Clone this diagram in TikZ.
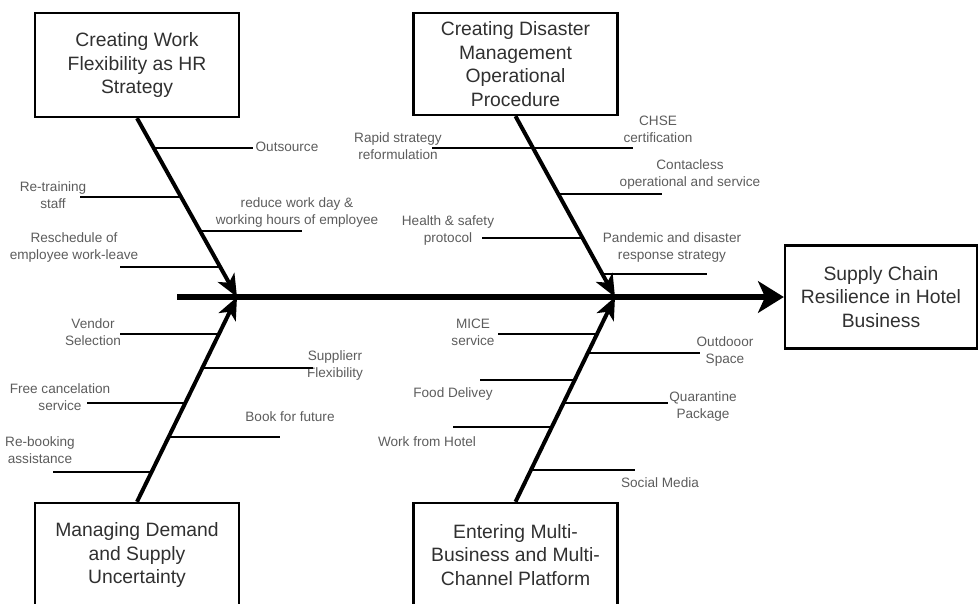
\documentclass[tikz,border=0pt]{standalone}
\usepackage{fontspec}
\setmainfont{Liberation Sans}
\usetikzlibrary{arrows.meta,positioning}
\definecolor{boxtext}{HTML}{303030}
\definecolor{labeltext}{HTML}{5C5C5C}

\begin{document}
\begin{tikzpicture}[x=0.03cm,y=-0.03cm]
\tikzstyle{cause}=[rectangle,draw=black,line width=2pt,minimum width=6.12cm,minimum height=3.12cm,align=center,text=boxtext,font={\fontsize{16.5}{20}\selectfont},inner sep=2pt]
\tikzstyle{effect}=[cause,minimum width=5.76cm,minimum height=3.09cm]
\tikzstyle{sublabel}=[align=center,text=labeltext,font={\fontsize{11.6}{14.5}\selectfont},inner sep=0pt]
\tikzstyle{spine}=[line width=3.4pt,-{Stealth[length=19pt,width=16pt,inset=5pt]}]
\tikzstyle{backbone}=[line width=4.3pt,-{Stealth[length=22pt,width=27pt,inset=6pt]}]
\tikzstyle{branch}=[line width=2pt]

\useasboundingbox (0,0) rectangle (978,603);
\clip (0,0) rectangle (978,603);

%%%%%%%%%%%%%%%%%%%%%%%%%%%%%%%%%%%%%%%%%%%%%%%%%%%%%%%%%%%%%%%%%%%%%%%%
%BOXES
\node[cause] (hrbox) at (137,65) {Creating Work\\Flexibility as HR\\Strategy};
\node[cause,minimum height=3.06cm] (dmbox) at (515.5,64) {Creating Disaster\\Management\\Operational\\Procedure};
\node[cause] (dsbox) at (137,555) {Managing Demand\\and Supply\\Uncertainty};
\node[cause] (mbbox) at (515.5,555) {Entering Multi-\\Business and Multi-\\Channel Platform};
\node[effect] (scbox) at (881,297) {Supply Chain\\Resilience in Hotel\\Business};

%backbone
\coordinate (head) at (177,297);
\coordinate (tipA) at (237,297);
\coordinate (tipB) at (615,297);

%%%%%%%%%%%%%%%%%%%%%%%%%%%%%%%%%%%%%%%%%%%%%%%%%%%%%%%%%%%%%%%%%%%%%%%%
%LABELS
%hr
\node[sublabel] (outsource) at (287,147) {Outsource};
\node[sublabel] (retrain) at (53,195) {Re-training\\staff};
\node[sublabel] (reduce) at (297,212) {reduce work day \&\\working hours of employee};
\node[sublabel] (resched) at (74,247) {Reschedule of\\employee work-leave};
%dm
\node[sublabel] (rapid) at (398,146) {Rapid strategy\\reformulation};
\node[sublabel] (chse) at (658,129) {CHSE\\certification};
\node[sublabel] (contact) at (690,174) {Contacless\\operational and service};
\node[sublabel] (health) at (448,230) {Health \& safety\\protocol};
\node[sublabel] (pandemic) at (672,247) {Pandemic and disaster\\response strategy};
%ds
\node[sublabel] (vendor) at (93,332) {Vendor\\Selection};
\node[sublabel] (supplier) at (335,365) {Supplierr\\Flexibility};
\node[sublabel] (freecancel) at (60,397) {Free cancelation\\service};
\node[sublabel] (book) at (290,417) {Book for future};
\node[sublabel] (rebook) at (40,450) {Re-booking\\assistance};
%mb
\node[sublabel] (mice) at (473,332) {MICE\\service};
\node[sublabel] (outdoor) at (725,351) {Outdooor\\Space};
\node[sublabel] (food) at (453,394) {Food Delivey};
\node[sublabel] (quarantine) at (703,406) {Quarantine\\Package};
\node[sublabel] (wfh) at (427,442) {Work from Hotel};
\node[sublabel] (social) at (660,483) {Social Media};

%%%%%%%%%%%%%%%%%%%%%%%%%%%%%%%%%%%%%%%%%%%%%%%%%%%%%%%%%%%%%%%%%%%%%%%%
%BRANCH ENDS
%hr
\coordinate (outsource0) at (154.2,148);  \coordinate (outsource1) at (253,148);
\coordinate (retrain0) at (181.4,197);    \coordinate (retrain1) at (80,197);
\coordinate (reduce0) at (200.3,231);     \coordinate (reduce1) at (302,231);
\coordinate (resched0) at (220.3,267);    \coordinate (resched1) at (120,267);
%dm
\coordinate (rapid0) at (533.5,148);      \coordinate (rapid1) at (432,148);
\coordinate (chse1) at (633,148);
\coordinate (contact0) at (558.7,194);    \coordinate (contact1) at (662,194);
\coordinate (health0) at (582.7,238);     \coordinate (health1) at (482,238);
\coordinate (pandemic0) at (602.4,274);   \coordinate (pandemic1) at (707,274);
%ds
\coordinate (vendor0) at (219,334);       \coordinate (vendor1) at (120,334);
\coordinate (supplier0) at (202.5,368);   \coordinate (supplier1) at (313,368);
\coordinate (freecancel0) at (185.5,403); \coordinate (freecancel1) at (87,403);
\coordinate (book0) at (169,437);         \coordinate (book1) at (280,437);
\coordinate (rebook0) at (152,472);       \coordinate (rebook1) at (53,472);
%mb
\coordinate (mice0) at (597.1,334);       \coordinate (mice1) at (498,334);
\coordinate (outdoor0) at (587.9,353);    \coordinate (outdoor1) at (700,353);
\coordinate (food0) at (574.9,380);       \coordinate (food1) at (480,380);
\coordinate (quarantine0) at (563.8,403); \coordinate (quarantine1) at (668,403);
\coordinate (wfh0) at (552.2,427);        \coordinate (wfh1) at (453,427);
\coordinate (social0) at (531.4,470);     \coordinate (social1) at (635,470);

%%%%%%%%%%%%%%%%%%%%%%%%%%%%%%%%%%%%%%%%%%%%%%%%%%%%%%%%%%%%%%%%%%%%%%%%
%ARROWS
\draw[backbone] (head) -- (scbox.west);

\draw[spine] (hrbox.south) -- (tipA);
\draw[spine] (dsbox.north) -- (tipA);
\draw[spine] (dmbox.south) -- (tipB);
\draw[spine] (mbbox.north) -- (tipB);

%branches
\foreach \b in {outsource,retrain,reduce,resched,rapid,contact,health,pandemic,
                vendor,supplier,freecancel,book,rebook,
                mice,outdoor,food,quarantine,wfh,social}
  \draw[branch] (\b0) -- (\b1);
\draw[branch] (rapid0) -- (chse1);

\end{tikzpicture}
\end{document}
